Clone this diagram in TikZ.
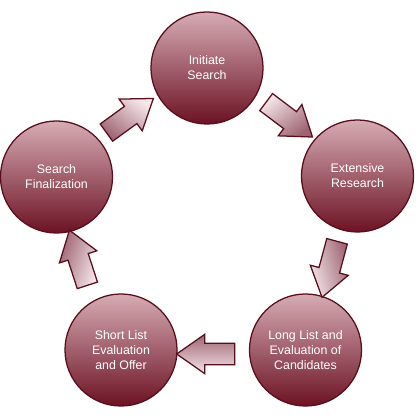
\documentclass[tikz,border=0pt]{standalone}
\usepackage{fontspec}
\setmainfont{Liberation Sans}
\usetikzlibrary{shapes.arrows,calc}

\definecolor{stageTop}{RGB}{214,172,180}
\definecolor{stageBot}{RGB}{108,18,36}
\definecolor{stageRim}{RGB}{88,14,28}
\definecolor{flowTop}{RGB}{244,230,233}
\definecolor{flowBot}{RGB}{158,100,114}

\begin{document}
\begin{tikzpicture}[
  x=0.025cm, y=0.025cm,
  stage/.style={circle,draw=stageRim,line width=0.9pt,top color=stageTop,bottom color=stageBot,
    minimum size=2.8cm,inner sep=0pt,align=center,text=white,
    font=\fontsize{8.8}{10.7}\selectfont},
  flow/.style={single arrow,draw=stageRim,line width=0.9pt,top color=flowTop,bottom color=flowBot,
    minimum height=1.45cm,inner xsep=0pt,inner ysep=0.25cm,
    single arrow head extend=0.225cm,single arrow tip angle=70}
]
\useasboundingbox (0,0) rectangle (420,420);

% ---- the five stages ----
\node[stage] (init)  at (207,352)  {Initiate\\Search};
\node[stage] (ext)   at (357.5,244) {Extensive\\Research};
\node[stage] (long)  at (305.5,70)  {Long List and\\Evaluation of\\Candidates};
\node[stage] (short) at (121,70)    {Short List\\Evaluation\\and Offer};
\node[stage] (final) at (56.5,243)  {Search\\Finalization};

% ---- block arrows between them (shading kept upright) ----
\node[flow,rotate=-37,shading angle=37]   (initext)    at ($(init)!0.5!(ext)+(1,7)$) {};
\node[flow,rotate=-105,shading angle=105] (extlong)    at ($(ext)!0.5!(long)+(0,1)$) {};
\node[flow,rotate=180,shading angle=180]  (longshort)  at ($(long)!0.5!(short)+(0,-4)$) {};
\node[flow,rotate=108,shading angle=-108] (shortfinal) at ($(short)!0.5!(final)+(-8,-1.5)$) {};
\node[flow,rotate=36,shading angle=-36]   (finalinit)  at ($(final)!0.5!(init)+(-8,2.5)$) {};

\end{tikzpicture}
\end{document}
